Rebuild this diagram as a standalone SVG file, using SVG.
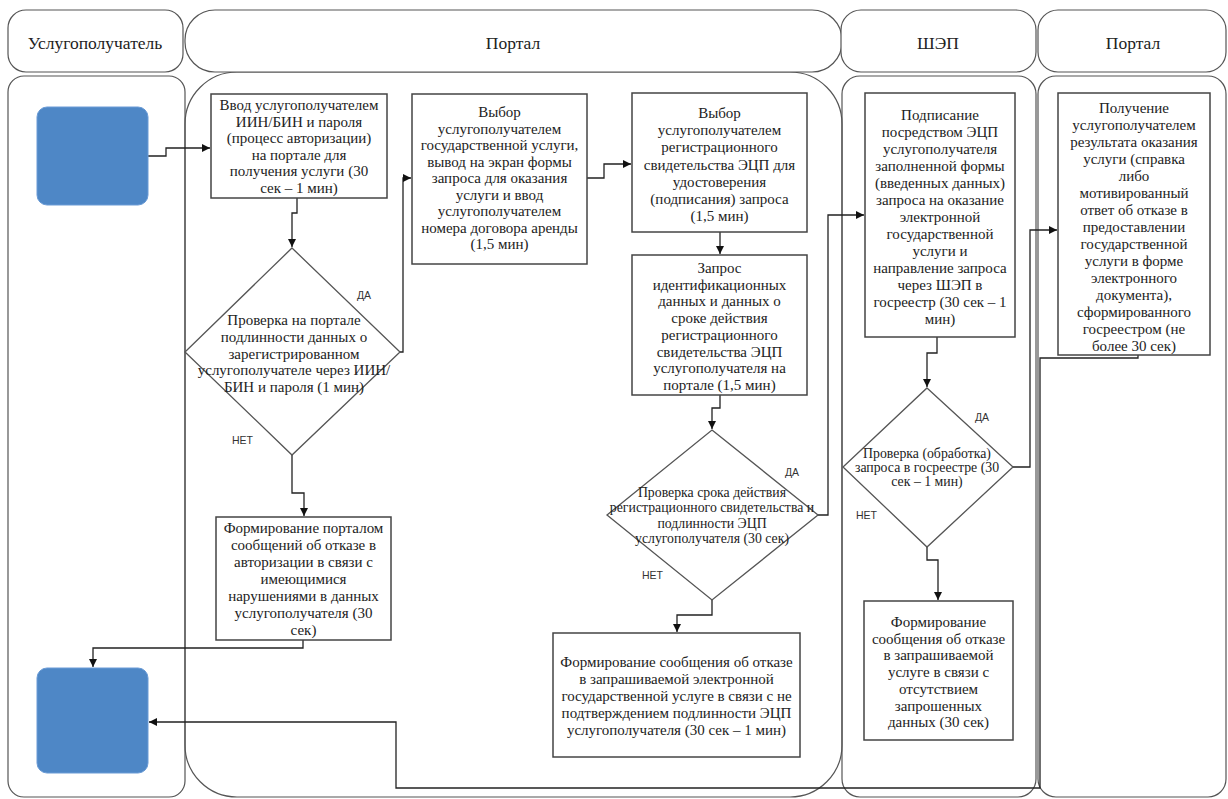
<svg xmlns="http://www.w3.org/2000/svg" width="1228" height="799" viewBox="0 0 1228 799">
<defs>
<marker id="arr" markerUnits="userSpaceOnUse" markerWidth="10" markerHeight="10" refX="8" refY="4" orient="auto">
<path d="M0,0 L8,4 L0,8 Z" fill="#111"/>
</marker>
<style>
.lane{fill:none;stroke:#555;stroke-width:1.2}
.hdr{fill:#fff;stroke:#555;stroke-width:1.2}
.box{fill:#fff;stroke:#444;stroke-width:1.5}
.dia{fill:#fff;stroke:#555;stroke-width:1.3}
.term{fill:#4e87c6;stroke:#6a9bd6;stroke-width:1}
.ht{font-family:'Liberation Serif','DejaVu Serif',serif;font-size:17.5px;fill:#222;text-anchor:middle;dominant-baseline:central}
.t{font-family:'Liberation Serif','DejaVu Serif',serif;font-size:15px;fill:#222;text-anchor:middle;dominant-baseline:central}
.ts{font-family:'Liberation Serif','DejaVu Serif',serif;font-size:13.8px;fill:#222;text-anchor:middle;dominant-baseline:central}
.lbl{font-family:'Liberation Sans',sans-serif;font-size:10.5px;fill:#333;dominant-baseline:central}
.c{fill:none;stroke:#222;stroke-width:1.3;marker-end:url(#arr)}
</style>
</defs>
<rect width="1228" height="799" fill="#fff"/>
<g id="lanes">
<rect class="lane" x="8" y="76" width="177" height="721" rx="16"/>
<rect class="lane" x="185" y="72" width="657" height="725" rx="52"/>
<rect class="lane" x="842" y="76" width="194" height="721" rx="18"/>
<rect class="lane" x="1038" y="76" width="188" height="721" rx="18"/>
<rect class="hdr" x="8" y="10" width="175" height="62" rx="18"/>
<rect class="hdr" x="185" y="10" width="657" height="62" rx="30"/>
<rect class="hdr" x="841" y="10" width="195" height="62" rx="20"/>
<rect class="hdr" x="1038" y="10" width="188" height="62" rx="20"/>
<text class="ht" x="95" y="43">Услугополучатель</text>
<text class="ht" x="513" y="43">Портал</text>
<text class="ht" x="938" y="43">ШЭП</text>
<text class="ht" x="1133" y="43">Портал</text>
</g>
<g id="connectors">
<path class="c" d="M148,156 H166 V148 H210"/>
<path class="c" d="M297,198 V213 H292 V247"/>
<path class="c" d="M400,352 H403 V178 H411"/>
<path class="c" d="M292,455 V493 H304 V516"/>
<path class="c" d="M303,640 V648 H93 V667"/>
<path class="c" d="M587,178 H604 V164 H631"/>
<path class="c" d="M720,232 V254"/>
<path class="c" d="M720,395 V408 H712 V429"/>
<path class="c" d="M818,515 H828 V215 H864"/>
<path class="c" d="M712,600 V615 H677 V632"/>
<path class="c" d="M937,337 V353 H927 V387"/>
<path class="c" d="M1013,467 H1030 V230 H1057"/>
<path class="c" d="M927,547 V560 H938 V600"/>
<path class="c" d="M1138,355 V358 H1040 V788 H396 V722 H149"/>
<text class="lbl" x="357" y="295">ДА</text>
<text class="lbl" x="232" y="440">НЕТ</text>
<text class="lbl" x="785" y="472">ДА</text>
<text class="lbl" x="642" y="575">НЕТ</text>
<text class="lbl" x="975" y="417">ДА</text>
<text class="lbl" x="856" y="515">НЕТ</text>
</g>
<g id="start">
<rect class="term" x="37" y="107" width="111" height="98" rx="10"/>
</g>
<g id="end">
<rect class="term" x="37" y="668" width="111" height="105" rx="10"/>
</g>
<g id="box1">
<rect class="box" x="211" y="94" width="176" height="104"/>
<text class="t" x="299" y="105">Ввод услугополучателем</text>
<text class="t" x="299" y="121.6">ИИН/БИН и пароля</text>
<text class="t" x="299" y="138.2">(процесс авторизации)</text>
<text class="t" x="299" y="154.8">на портале для</text>
<text class="t" x="299" y="171.4">получения услуги (30</text>
<text class="t" x="299" y="188">сек – 1 мин)</text>
</g>
<g id="decision1">
<polygon class="dia" points="292,248 400,352 292,455 185,352"/>
<text class="t" x="294" y="320">Проверка на портале</text>
<text class="t" x="294" y="337">подлинности данных о</text>
<text class="t" x="294" y="354">зарегистрированном</text>
<text class="t" x="294" y="370">услугополучателе через ИИН/</text>
<text class="t" x="294" y="387">БИН и пароля (1 мин)</text>
</g>
<g id="box9">
<rect class="box" x="216" y="517" width="175" height="123"/>
<text class="t" x="303.5" y="528">Формирование порталом</text>
<text class="t" x="303.5" y="545">сообщений об отказе в</text>
<text class="t" x="303.5" y="562">авторизации в связи с</text>
<text class="t" x="303.5" y="579">имеющимися</text>
<text class="t" x="303.5" y="596">нарушениями в данных</text>
<text class="t" x="303.5" y="613">услугополучателя (30</text>
<text class="t" x="303.5" y="630">сек)</text>
</g>
<g id="box2">
<rect class="box" x="412" y="94" width="175" height="170"/>
<text class="t" x="499.5" y="112">Выбор</text>
<text class="t" x="499.5" y="128.5">услугополучателем</text>
<text class="t" x="499.5" y="145">государственной услуги,</text>
<text class="t" x="499.5" y="161.5">вывод на экран формы</text>
<text class="t" x="499.5" y="178">запроса для оказания</text>
<text class="t" x="499.5" y="194.5">услуги и ввод</text>
<text class="t" x="499.5" y="211">услугополучателем</text>
<text class="t" x="499.5" y="227.5">номера договора аренды</text>
<text class="t" x="499.5" y="244">(1,5 мин)</text>
</g>
<g id="box3">
<rect class="box" x="632" y="93" width="175" height="139"/>
<text class="t" x="719.5" y="113">Выбор</text>
<text class="t" x="719.5" y="130.2">услугополучателем</text>
<text class="t" x="719.5" y="147.4">регистрационного</text>
<text class="t" x="719.5" y="164.6">свидетельства ЭЦП для</text>
<text class="t" x="719.5" y="181.8">удостоверения</text>
<text class="t" x="719.5" y="199">(подписания) запроса</text>
<text class="t" x="719.5" y="216.2">(1,5 мин)</text>
</g>
<g id="box4">
<rect class="box" x="632" y="255" width="175" height="140"/>
<text class="t" x="719.5" y="268">Запрос</text>
<text class="t" x="719.5" y="284.7">идентификационных</text>
<text class="t" x="719.5" y="301.4">данных и данных о</text>
<text class="t" x="719.5" y="318.1">сроке действия</text>
<text class="t" x="719.5" y="334.8">регистрационного</text>
<text class="t" x="719.5" y="351.5">свидетельства ЭЦП</text>
<text class="t" x="719.5" y="368.2">услугополучателя на</text>
<text class="t" x="719.5" y="384.9">портале (1,5 мин)</text>
</g>
<g id="decision2">
<polygon class="dia" points="712,430 818,515 712,600 607,515"/>
<text class="ts" x="712" y="492">Проверка срока действия</text>
<text class="ts" x="712" y="507.5">регистрационного свидетельства и</text>
<text class="ts" x="712" y="523">подлинности ЭЦП</text>
<text class="ts" x="712" y="538.5">услугополучателя (30 сек)</text>
</g>
<g id="box8">
<rect class="box" x="553" y="633" width="247" height="124"/>
<text class="t" x="676.5" y="662">Формирование сообщения об отказе</text>
<text class="t" x="676.5" y="679">в запрашиваемой электронной</text>
<text class="t" x="676.5" y="696">государственной услуге в связи с не</text>
<text class="t" x="676.5" y="713">подтверждением подлинности ЭЦП</text>
<text class="t" x="676.5" y="730">услугополучателя (30 сек – 1 мин)</text>
</g>
<g id="box5">
<rect class="box" x="865" y="93" width="150" height="244"/>
<text class="t" x="940" y="115">Подписание</text>
<text class="t" x="940" y="132">посредством ЭЦП</text>
<text class="t" x="940" y="149">услугополучателя</text>
<text class="t" x="940" y="166">заполненной формы</text>
<text class="t" x="940" y="183">(введенных данных)</text>
<text class="t" x="940" y="200">запроса на оказание</text>
<text class="t" x="940" y="217">электронной</text>
<text class="t" x="940" y="234">государственной</text>
<text class="t" x="940" y="251">услуги и</text>
<text class="t" x="940" y="268">направление запроса</text>
<text class="t" x="940" y="285">через ШЭП в</text>
<text class="t" x="940" y="302">госреестр (30 сек – 1</text>
<text class="t" x="940" y="319">мин)</text>
</g>
<g id="decision3">
<polygon class="dia" points="927,388 1013,467 927,547 843,467"/>
<text class="ts" x="927" y="453">Проверка (обработка)</text>
<text class="ts" x="927" y="467">запроса в госреестре (30</text>
<text class="ts" x="927" y="481">сек – 1 мин)</text>
</g>
<g id="box7">
<rect class="box" x="864" y="601" width="149" height="139"/>
<text class="t" x="938.5" y="622">Формирование</text>
<text class="t" x="938.5" y="638.7">сообщения об отказе</text>
<text class="t" x="938.5" y="655.4">в запрашиваемой</text>
<text class="t" x="938.5" y="672.1">услуге в связи с</text>
<text class="t" x="938.5" y="688.8">отсутствием</text>
<text class="t" x="938.5" y="705.5">запрошенных</text>
<text class="t" x="938.5" y="722.2">данных (30 сек)</text>
</g>
<g id="box6">
<rect class="box" x="1058" y="93" width="152" height="262"/>
<text class="t" x="1134" y="108">Получение</text>
<text class="t" x="1134" y="125">услугополучателем</text>
<text class="t" x="1134" y="142">результата оказания</text>
<text class="t" x="1134" y="159">услуги (справка</text>
<text class="t" x="1134" y="176">либо</text>
<text class="t" x="1134" y="193">мотивированный</text>
<text class="t" x="1134" y="210">ответ об отказе в</text>
<text class="t" x="1134" y="227">предоставлении</text>
<text class="t" x="1134" y="244">государственной</text>
<text class="t" x="1134" y="261">услуги в форме</text>
<text class="t" x="1134" y="278">электронного</text>
<text class="t" x="1134" y="295">документа),</text>
<text class="t" x="1134" y="312">сформированного</text>
<text class="t" x="1134" y="329">госреестром (не</text>
<text class="t" x="1134" y="346">более 30 сек)</text>
</g>
</svg>
